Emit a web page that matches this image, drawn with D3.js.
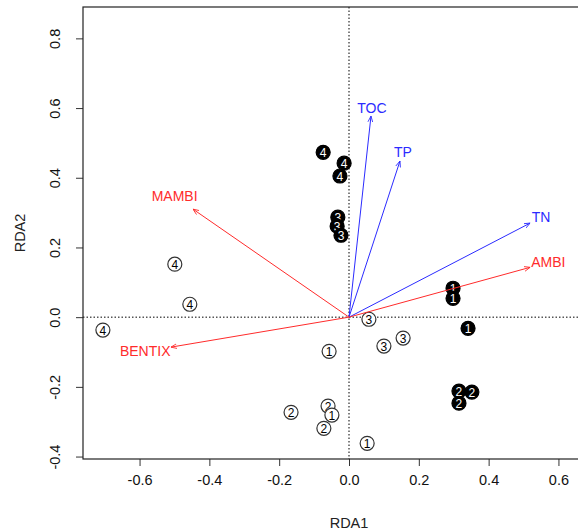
<!DOCTYPE html>
<html lang="en">
<head>
  <meta charset="UTF-8">
  <title>RDA biplot</title>
  <style>
    body { margin: 0; padding: 0; background: #fff; font-family: Arial, "Liberation Sans", sans-serif; }
    .tick text { font-size: 14.5px; fill: #111; }
    .axis-title { font-size: 14.5px; fill: #222; }
    .zero { stroke: #000; stroke-width: 1; stroke-dasharray: 1.5 2; }
    .site text { font-size: 12px; text-anchor: middle; dominant-baseline: central; }
  </style>
</head>
<body>
<div id="chart"></div>
<script src="https://cdnjs.cloudflare.com/ajax/libs/d3/7.8.5/d3.min.js"></script>
<script>
  // Site scores (RDA1, RDA2) with station label; "open" = white symbol, "filled" = black
  const openX   = [-0.499, -0.456, -0.705, 0.057, 0.100, 0.155, -0.057, -0.166, -0.060, -0.049, -0.072, 0.052];
  const openY   = [0.152, 0.037, -0.037, -0.006, -0.083, -0.060, -0.098, -0.273, -0.255, -0.281, -0.319, -0.362];
  const openLab = ["4", "4", "4", "3", "3", "3", "1", "2", "2", "1", "2", "1"];

  const filledX   = [-0.074, -0.014, -0.026, -0.032, -0.034, -0.023, 0.298, 0.298, 0.341, 0.315, 0.352, 0.315];
  const filledY   = [0.473, 0.442, 0.405, 0.287, 0.261, 0.235, 0.083, 0.054, -0.032, -0.212, -0.215, -0.247];
  const filledLab = ["4", "4", "4", "3", "3", "3", "1", "1", "1", "2", "2", "2"];

  // Environmental / index vectors
  const vecNames = ["TOC", "TP", "TN", "AMBI", "MAMBI", "BENTIX"];
  const vecX     = [0.063, 0.146, 0.519, 0.519, -0.447, -0.510];
  const vecY     = [0.577, 0.448, 0.270, 0.143, 0.310, -0.086];
  const vecGroup = ["env", "env", "env", "index", "index", "index"];

  const xTicks = [-0.6, -0.4, -0.2, 0.0, 0.2, 0.4, 0.6];
  const yTicks = [-0.4, -0.2, 0.0, 0.2, 0.4, 0.6, 0.8];

  const width = 578, height = 532;
  const mLeft = 83, mRight = 578, mTop = 7, mBottom = 459;

  const svg = d3.select("#chart").append("svg")
      .attr("width", width)
      .attr("height", height);

  const x = d3.scaleLinear().domain([-0.762, 0.656]).range([mLeft, mRight]);
  const y = d3.scaleLinear().domain([-0.407, 0.89]).range([mBottom, mTop]);
  const colour = { env: "#2b2bff", index: "#ff2b2b" };
  const fmt = d => d.toFixed(1);   // plain hyphen minus like R

  // zero lines
  svg.append("line").attr("class", "zero")
      .attr("x1", x(0)).attr("x2", x(0)).attr("y1", mTop).attr("y2", mBottom);
  svg.append("line").attr("class", "zero")
      .attr("x1", mLeft).attr("x2", mRight).attr("y1", y(0)).attr("y2", y(0));

  // sites
  const sites = [];
  openX.forEach((v, i) => sites.push({ x: v, y: openY[i], lab: openLab[i], filled: false }));
  filledX.forEach((v, i) => sites.push({ x: v, y: filledY[i], lab: filledLab[i], filled: true }));

  const g = svg.selectAll("g.site")
      .data(sites)
      .enter()
      .append("g")
      .attr("class", "site")
      .attr("transform", d => `translate(${x(d.x)},${y(d.y)})`);
  g.append("circle")
      .attr("r", 7)
      .attr("fill", d => d.filled ? "#000" : "#fff")
      .attr("stroke", d => d.filled ? "#000" : "#333")
      .attr("stroke-width", 1.2);
  g.append("text")
      .attr("y", 0.5)
      .attr("fill", d => d.filled ? "#fff" : "#000")
      .text(d => d.lab);

  // arrows
  const defs = svg.append("defs");
  Object.keys(colour).forEach(k => {
    defs.append("marker")
        .attr("id", "head-" + k)
        .attr("viewBox", "0 0 10 10")
        .attr("refX", 10).attr("refY", 5)
        .attr("markerWidth", 6).attr("markerHeight", 6)
        .attr("markerUnits", "userSpaceOnUse")
        .attr("orient", "auto")
      .append("path")
        .attr("d", "M0,1 L10,5 L0,9")
        .attr("fill", "none")
        .attr("stroke", colour[k])
        .attr("stroke-width", 1.4);
  });

  const vecs = vecNames.map((n, i) => ({ name: n, x: vecX[i], y: vecY[i], grp: vecGroup[i] }));

  svg.selectAll("line.vec")
      .data(vecs)
      .enter()
      .append("line")
      .attr("class", "vec")
      .attr("x1", x(0)).attr("y1", y(0))
      .attr("x2", d => x(d.x)).attr("y2", d => y(d.y))
      .attr("stroke", d => colour[d.grp])
      .attr("stroke-width", 1)
      .attr("marker-end", d => `url(#head-${d.grp})`);

  svg.selectAll("text.vec")
      .data(vecs)
      .enter()
      .append("text")
      .attr("class", "vec")
      .attr("font-size", "14px")
      .attr("text-anchor", "middle")
      .attr("dominant-baseline", "central")
      .attr("fill", d => colour[d.grp])
      .text(d => d.name)
      .each(function(d) {
        // push label just beyond the arrow tip
        const px = x(d.x) - x(0), py = y(d.y) - y(0);
        const len = Math.sqrt(px * px + py * py);
        const ux = px / len, uy = py / len;
        const hw = this.getComputedTextLength() / 2;
        const off = 3 + Math.abs(ux) * hw * 0.9 + Math.abs(uy) * 4;
        d3.select(this)
          .attr("x", x(d.x) + ux * off)
          .attr("y", y(d.y) + uy * off);
      });

  // axes
  const xAxis = svg.append("g")
      .attr("transform", `translate(0,${mBottom})`)
      .call(d3.axisBottom(x).tickValues(xTicks).tickFormat(fmt).tickSize(7).tickPadding(9));
  xAxis.select(".domain").remove();
  xAxis.selectAll(".tick line").attr("stroke", "#333");

  const yAxis = svg.append("g")
      .attr("transform", `translate(${mLeft},0)`)
      .call(d3.axisLeft(y).tickValues(yTicks).tickFormat(fmt).tickSize(7));
  yAxis.select(".domain").remove();
  yAxis.selectAll(".tick line").attr("stroke", "#333");
  yAxis.selectAll(".tick text")
      .attr("transform", "rotate(-90)")
      .attr("x", 0)
      .attr("y", -28)
      .attr("dy", "0.35em")
      .attr("text-anchor", "middle");

  // box (right edge falls outside the window)
  svg.append("rect")
      .attr("x", mLeft).attr("y", mTop)
      .attr("width", mRight - mLeft + 5).attr("height", mBottom - mTop)
      .attr("fill", "none")
      .attr("stroke", "#222")
      .attr("stroke-width", 1.2);

  svg.append("text").attr("class", "axis-title")
      .attr("x", x(0)).attr("y", 528)
      .attr("text-anchor", "middle")
      .text("RDA1");
  svg.append("text").attr("class", "axis-title")
      .attr("transform", `translate(25,${(mTop + mBottom) / 2}) rotate(-90)`)
      .attr("text-anchor", "middle")
      .text("RDA2");
</script>
</body>
</html>
